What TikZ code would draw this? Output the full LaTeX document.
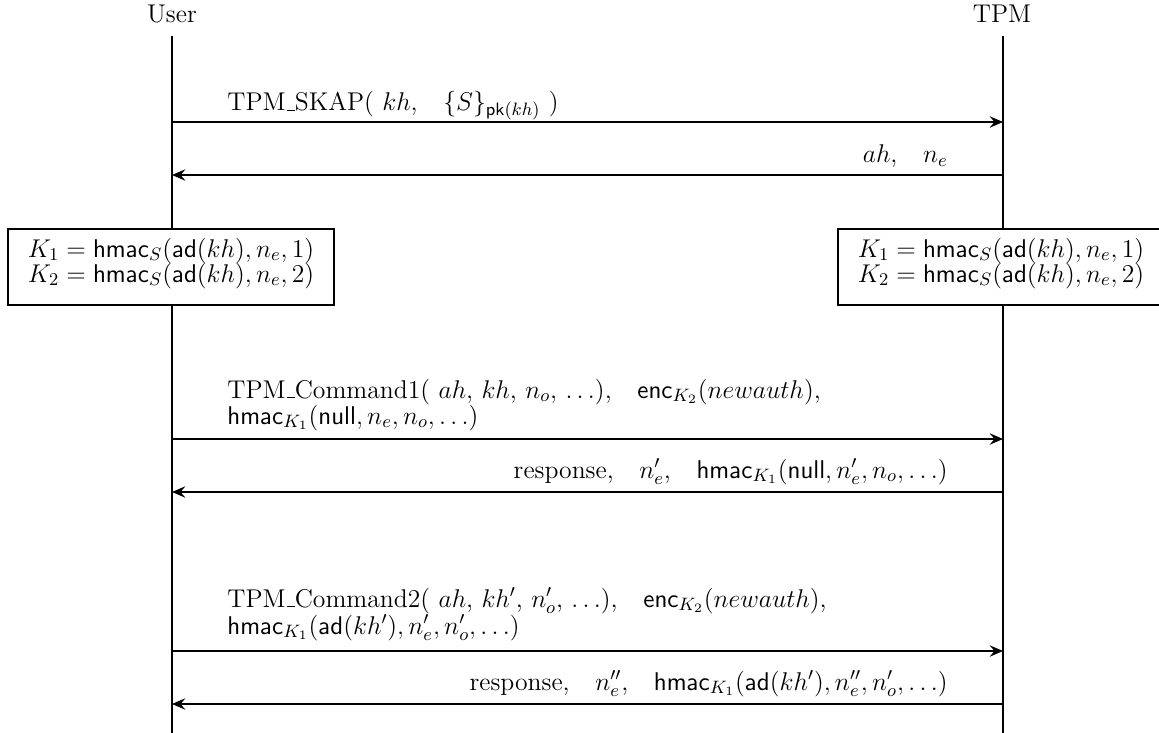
\RequirePackage{fix-cm}
\documentclass[tikz,border=0pt]{standalone}
\usepackage{amsmath}
\usetikzlibrary{arrows.meta}
\newcommand\usc{\leavevmode\kern.06em\vbox{\hrule width.3em}}
\begin{document}
\begin{tikzpicture}[x=0.5263pt,y=-0.5263pt,
  life/.style={line width=0.9pt},
  msg/.style={line width=0.9pt,-{Stealth[length=7pt,width=6pt,inset=2.5pt]}},
  lbl/.style={inner sep=0pt,font=\fontsize{13.5}{16}\selectfont},
  boxlbl/.style={inner sep=0pt,font=\fontsize{13.5}{16}\selectfont},
  keybox/.style={draw,line width=0.9pt,fill=white,minimum width=326*0.5263pt,minimum height=76*0.5263pt,inner sep=0pt}]
\useasboundingbox (0,0) rectangle (1159,733);
% actors
\node[lbl] (user) at (172,14) {User};
\node[lbl] (tpm) at (1002,14) {TPM};
\coordinate (utop) at (172,36);
\coordinate (ttop) at (1003,36);
\coordinate (ubot) at (172,733);
\coordinate (tbot) at (1003,733);
\draw[life] (utop) -- (ubot);
\draw[life] (ttop) -- (tbot);
% boxes
\node[keybox] (kl) at (171,267) {};
\node[keybox] (kr) at (1001,267) {};
\foreach \b in {kl,kr}{
  \node[boxlbl,anchor=base] at ([yshift=10*0.5263pt]\b.center) {$K_1 = \mathsf{hmac}_S(\mathsf{ad}(kh), n_e, 1)$};
  \node[boxlbl,anchor=base] at ([yshift=-15*0.5263pt]\b.center) {$K_2 = \mathsf{hmac}_S(\mathsf{ad}(kh), n_e, 2)$};
}
% message endpoints
\foreach \n/\y in {1/122,2/175,3/439,4/492,5/651,6/704}{
  \coordinate (u\n) at (172,\y);
  \coordinate (t\n) at (1003,\y);
}
\draw[msg] (u1) -- (t1);
\draw[msg] (t2) -- (u2);
\draw[msg] (u3) -- (t3);
\draw[msg] (t4) -- (u4);
\draw[msg] (u5) -- (t5);
\draw[msg] (t6) -- (u6);
% labels
\node[lbl,anchor=base west] (l1) at (227,111) {TPM\usc SKAP( $kh$,\quad $\{S\}_{\mathsf{pk}(kh)}$ )};
\node[lbl,anchor=base east] (l2) at (948,163) {$ah$,\quad $n_e$};
\node[lbl,anchor=base west] (l3a) at (227,398) {TPM\usc Command1( $ah$, $kh$, $n_o$, $\ldots$),\quad $\mathsf{enc}_{K_2}(newauth)$,};
\node[lbl,anchor=base west] (l3b) at (227,424) {$\mathsf{hmac}_{K_1}(\mathsf{null}, n_e, n_o, \ldots)$};
\node[lbl,anchor=base east] (l4) at (948,478) {response,\quad $n_e'$,\quad $\mathsf{hmac}_{K_1}(\mathsf{null}, n_e', n_o, \ldots)$};
\node[lbl,anchor=base west] (l5a) at (227,607) {TPM\usc Command2( $ah$, $kh'$, $n_o'$, $\ldots$),\quad $\mathsf{enc}_{K_2}(newauth)$,};
\node[lbl,anchor=base west] (l5b) at (227,634) {$\mathsf{hmac}_{K_1}(\mathsf{ad}(kh'), n_e', n_o', \ldots)$};
\node[lbl,anchor=base east] (l6) at (948,690) {response,\quad $n_e''$,\quad $\mathsf{hmac}_{K_1}(\mathsf{ad}(kh'), n_e'', n_o', \ldots)$};
\end{tikzpicture}
\end{document}
